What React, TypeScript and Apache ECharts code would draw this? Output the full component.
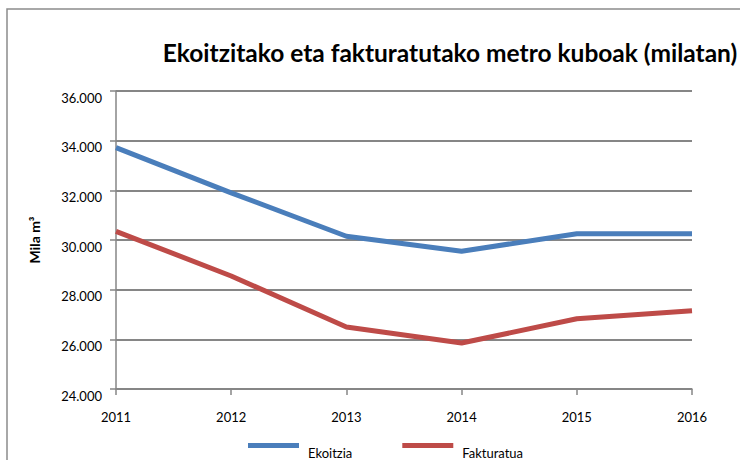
import React, { useEffect, useRef } from "react";
import * as echarts from "echarts";

const years = ["2011", "2012", "2013", "2014", "2015", "2016"];
const ekoitzia = [33720, 31900, 30150, 29550, 30250, 30250];
const fakturatua = [30350, 28550, 26500, 25850, 26830, 27150];
const yMin = 24000;
const yMax = 36000;
const yStep = 2000;

const FONT = "Lato, 'Open Sans', sans-serif";

function fmt(v: number): string {
  const s = Math.round(v).toString();
  return s.replace(/\B(?=(\d{3})+(?!\d))/g, ".");
}

export default function App() {
  const ref = useRef<HTMLDivElement>(null);
  useEffect(() => {
    if (!ref.current) return;
    const chart = echarts.init(ref.current, undefined, { renderer: "svg" });
    chart.setOption({
      animation: false,
      backgroundColor: "#ffffff",
      title: {
        text: "Ekoitzitako eta fakturatutako metro kuboak (milatan)",
        left: 445,
        top: 35,
        textAlign: "center",
        textStyle: { fontFamily: FONT, fontWeight: "bold", fontSize: 24.5, color: "#000" },
      },
      graphic: [
        {
          type: "rect",
          shape: { x: 7, y: 9, width: 800, height: 500 },
          style: { fill: "none", stroke: "#8c8c8c", lineWidth: 1.5 },
          silent: true,
          z: -1,
        },
      ],
      legend: {
        top: 438,
        left: 243,
        itemWidth: 51,
        itemHeight: 5,
        itemGap: 50,
        icon: "rect",
        formatter: "{t|{name}}",
        textStyle: {
          fontFamily: FONT,
          fontSize: 13,
          color: "#000",
          rich: {
            t: { fontFamily: FONT, fontSize: 13, color: "#000", padding: [14, 0, 0, 4] },
          },
        },
        data: ["Ekoitzia", "Fakturatua"],
      },
      grid: { left: 116, right: 48, top: 91, bottom: 71, containLabel: false },
      xAxis: {
        type: "category",
        data: years,
        boundaryGap: false,
        axisLine: { lineStyle: { color: "#868686", width: 1.5 } },
        axisTick: { show: true, length: 6, alignWithLabel: true, lineStyle: { color: "#868686", width: 1.5 } },
        axisLabel: { fontFamily: FONT, fontSize: 13, color: "#000", margin: 21 },
        splitLine: { show: false },
      },
      yAxis: {
        type: "value",
        min: yMin,
        max: yMax,
        interval: yStep,
        name: "Mila m³",
        nameLocation: "middle",
        nameGap: 75,
        nameRotate: 90,
        nameTextStyle: { fontFamily: FONT, fontWeight: "bold", fontSize: 14, color: "#000" },
        axisLine: { show: true, lineStyle: { color: "#868686", width: 1.5 } },
        axisTick: { show: true, length: 6, lineStyle: { color: "#868686", width: 1.5 } },
        axisLabel: {
          fontFamily: FONT,
          fontSize: 13,
          color: "#000",
          margin: 14,
          verticalAlign: "top",
          lineHeight: 13,
          formatter: (v: number) => fmt(v),
        },
        splitLine: { show: true, lineStyle: { color: "#868686", width: 2 } },
      },
      series: [
        {
          name: "Ekoitzia",
          type: "line",
          data: ekoitzia,
          showSymbol: false,
          symbol: "none",
          color: "#4A7EBB",
          lineStyle: { width: 5, color: "#4A7EBB" },
        },
        {
          name: "Fakturatua",
          type: "line",
          data: fakturatua,
          showSymbol: false,
          symbol: "none",
          color: "#BE4B48",
          lineStyle: { width: 5, color: "#BE4B48" },
        },
      ],
    });
    return () => chart.dispose();
  }, []);
  return (
    <div
      ref={ref}
      style={{ position: "fixed", left: 0, top: 0, width: 740, height: 460 }}
    />
  );
}
